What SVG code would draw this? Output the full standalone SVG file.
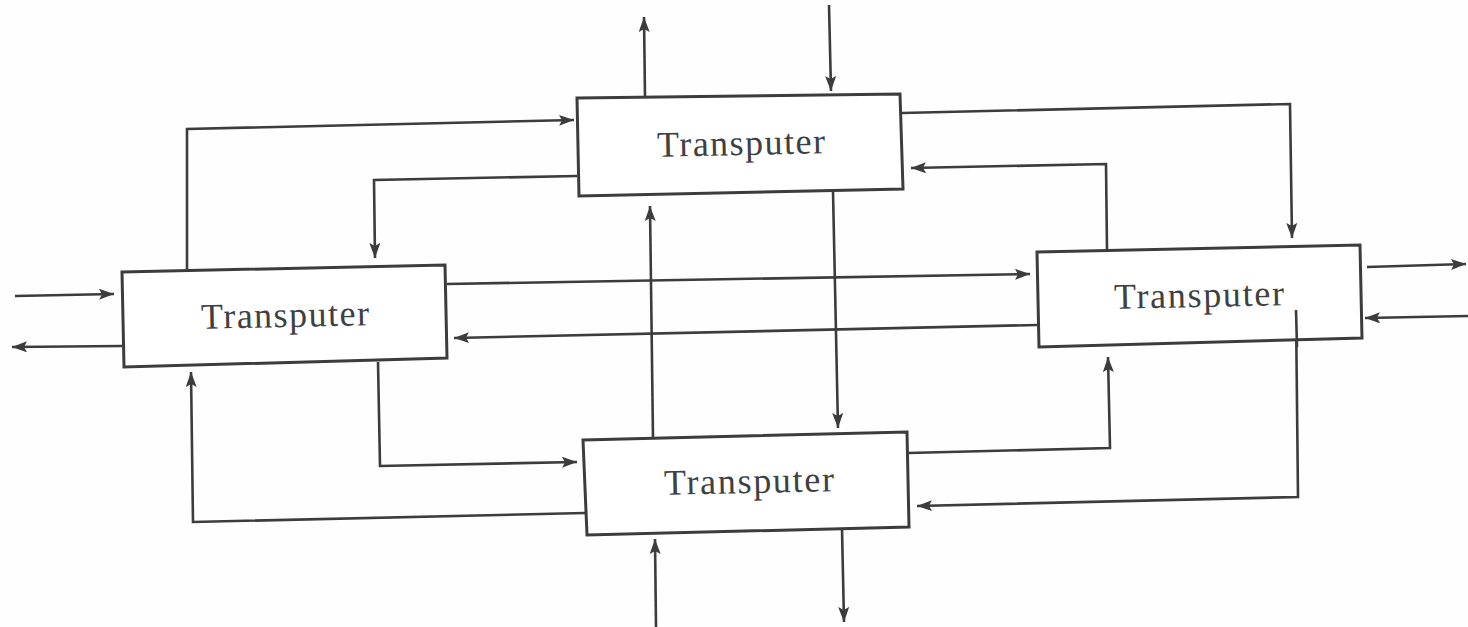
<svg xmlns="http://www.w3.org/2000/svg" width="1468" height="627" viewBox="0 0 1468 627">
  <style>
    .box { fill: #ffffff; stroke: #3c3c3c; stroke-width: 3; stroke-linejoin: miter; }
    .lbl { font-family: "Liberation Serif", "Times New Roman", serif; font-size: 36px; fill: #404040; text-anchor: middle; }
    .wire { fill: none; stroke: #3c3c3c; stroke-width: 2.6; stroke-linejoin: miter; marker-end: url(#head); }
  </style>
  <defs>
    <marker id="head" markerUnits="userSpaceOnUse" markerWidth="16" markerHeight="12" refX="15" refY="5.5" orient="auto">
      <path d="M0,0 L15,5.5 L0,11 L3,5.5 z" fill="#3c3c3c"/>
    </marker>
  </defs>
  <rect width="1468" height="627" fill="#fefefe"/>

  <g id="connectors">
    <!-- external links -->
    <polyline class="wire" points="645,97 644,17"/>
    <polyline class="wire" points="829,5 831,91"/>
    <polyline class="wire" points="15,296 114,294"/>
    <polyline class="wire" points="122,346 12,347"/>
    <polyline class="wire" points="1367,267 1466,264"/>
    <polyline class="wire" points="1468,316 1365,318"/>
    <polyline class="wire" points="656,627 655,539"/>
    <polyline class="wire" points="842,529 844,622"/>
    <!-- left <-> top -->
    <polyline class="wire" points="187,269 187,129 574,120"/>
    <polyline class="wire" points="577,176 374,180 375,258"/>
    <!-- top <-> right -->
    <polyline class="wire" points="902,113 1290,104 1292,238"/>
    <polyline class="wire" points="1107,250 1106,164 911,168"/>
    <!-- left <-> right -->
    <polyline class="wire" points="447,284 1030,274"/>
    <polyline class="wire" points="1037,325 454,338"/>
    <!-- top <-> bottom -->
    <polyline class="wire" points="653,438 650,206"/>
    <polyline class="wire" points="833,191 838,428"/>
    <!-- left <-> bottom -->
    <polyline class="wire" points="378,362 380,466 577,462"/>
    <polyline class="wire" points="585,513 193,522 191,372"/>
    <!-- right <-> bottom -->
    <polyline class="wire" points="908,453 1110,448 1108,357"/>
    <polyline class="wire" points="1296,310 1298,497 917,506"/>
  </g>

  <g id="top">
    <polygon class="box" points="577,98 900,94 903,189 579,196"/>
    <text class="lbl" x="741" y="155" textLength="168" transform="rotate(-1.2 741 145)">Transputer</text>
  </g>
  <g id="left">
    <polygon class="box" points="122,272 445,265 447,358 124,367"/>
    <text class="lbl" x="285" y="327" textLength="168" transform="rotate(-1.2 285 317)">Transputer</text>
  </g>
  <g id="right">
    <polygon class="box" points="1037,252 1360,245 1362,338 1039,347"/>
    <text class="lbl" x="1199" y="307" textLength="170" transform="rotate(-1.2 1199 297)">Transputer</text>
  </g>
  <g id="bottom">
    <polygon class="box" points="583,440 907,432 909,527 587,535"/>
    <text class="lbl" x="749" y="493" textLength="170" transform="rotate(-1.2 749 483)">Transputer</text>
  </g>
  <!-- stray stub of the right-to-bottom link printed inside the right node -->
  <polyline fill="none" stroke="#3c3c3c" stroke-width="2.6" points="1296,310 1297,347"/>
</svg>
